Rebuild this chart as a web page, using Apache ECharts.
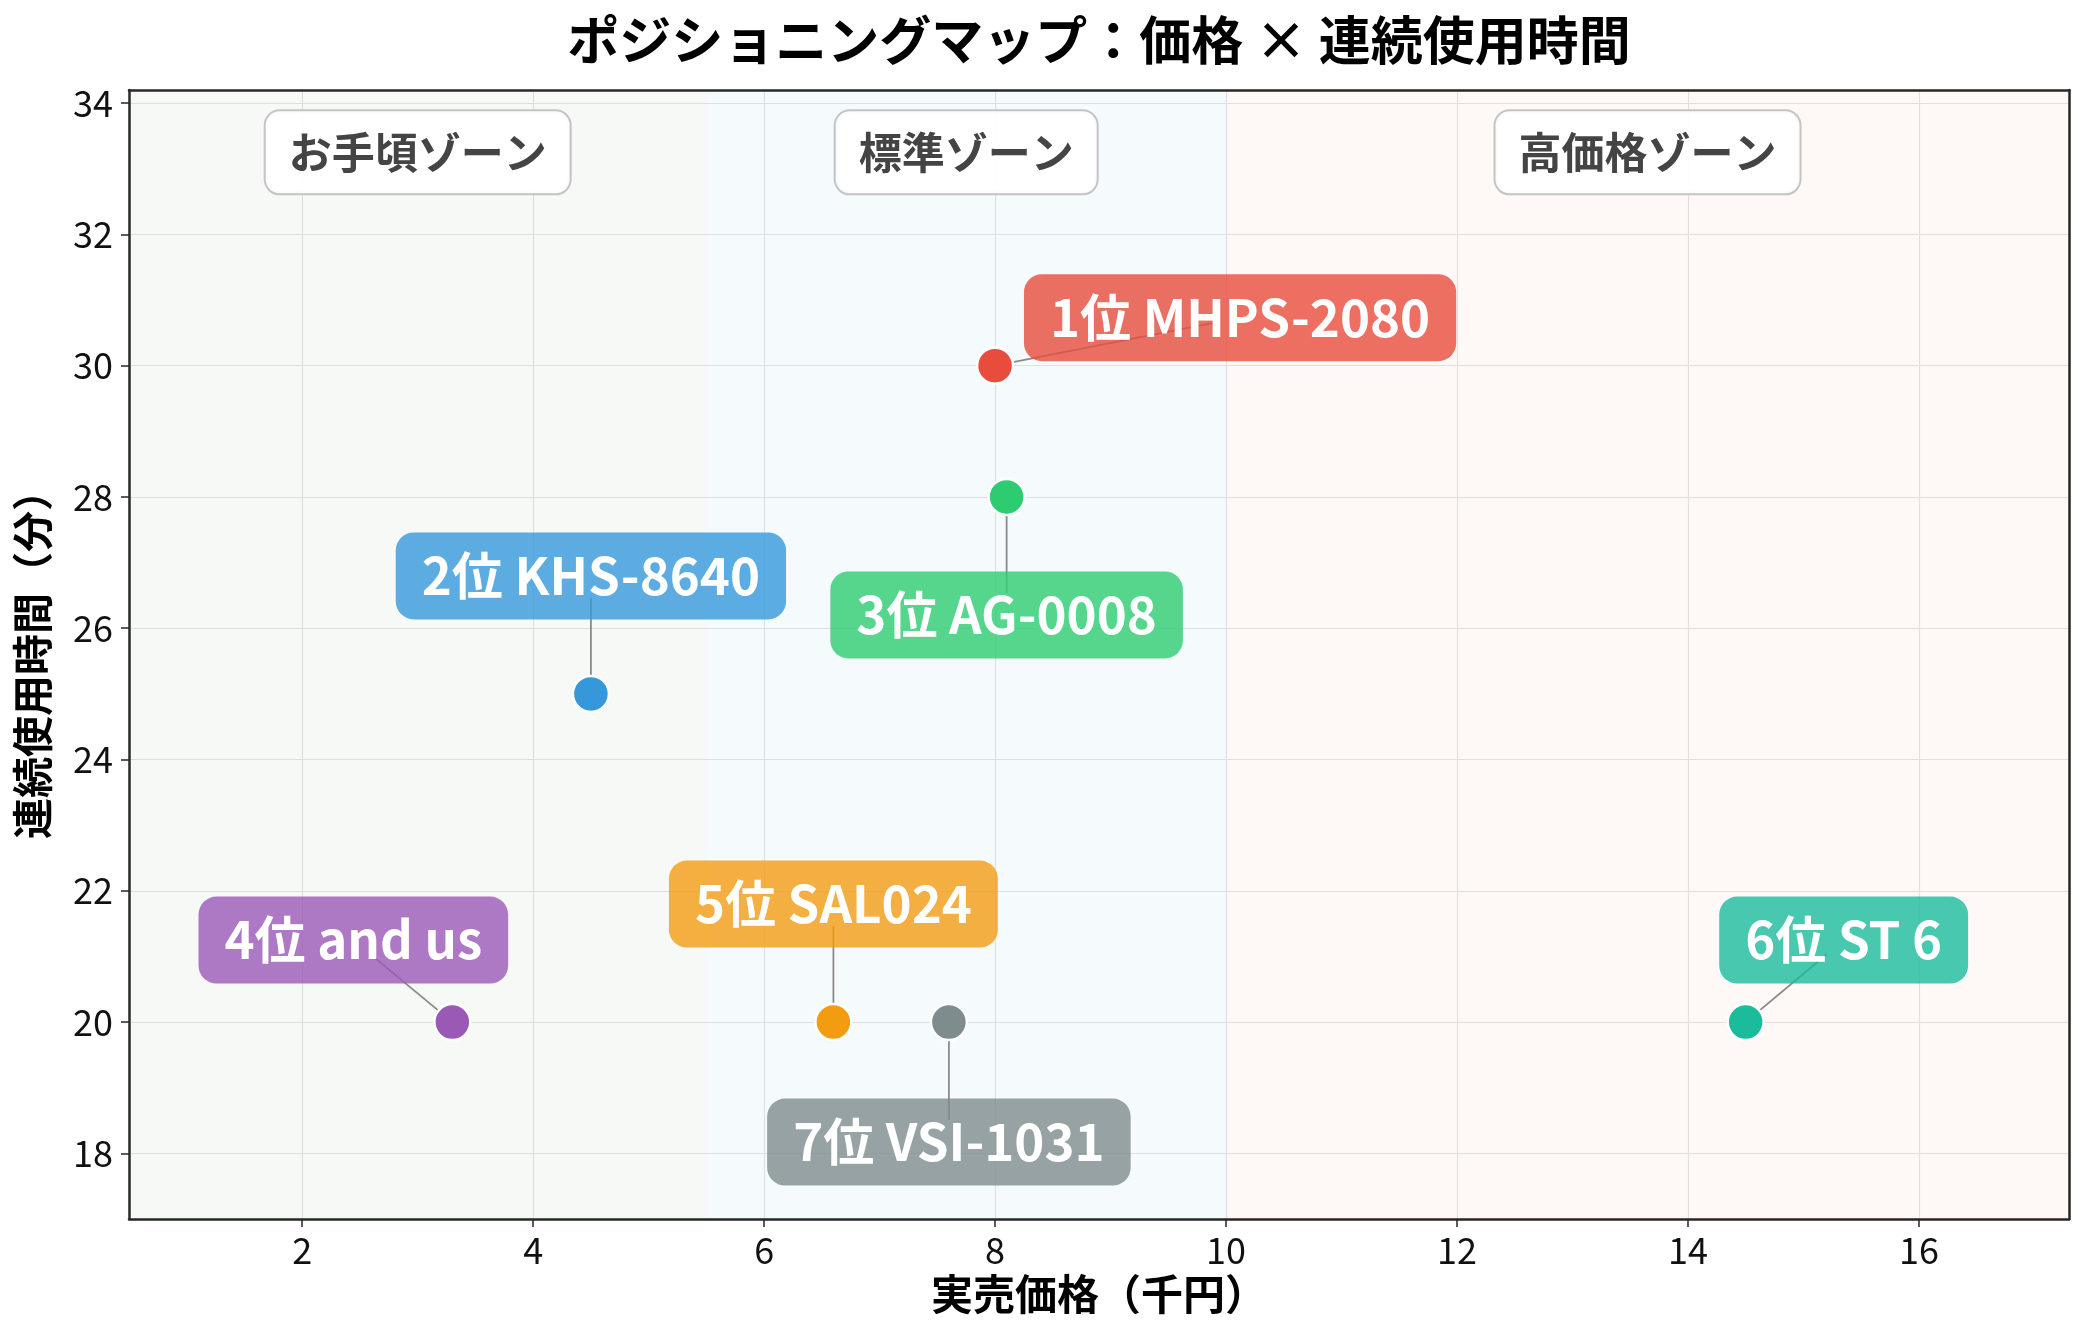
<!DOCTYPE html>
<html><head><meta charset="utf-8">
<script src="https://cdn.jsdelivr.net/npm/echarts@6/dist/echarts.min.js"></script>
<style>html,body{margin:0;padding:0;background:#fff}#c{width:2084px;height:1334px}</style>
</head><body><div id="c"></div>
<script>
const titleText = 'ポジショニングマップ：価格 × 連続使用時間';
const xAxisName = '実売価格（千円）';
const yAxisName = '連続使用時間（分）';
const productNames = ['1位 MHPS-2080','2位 KHS-8640','3位 AG-0008','4位 and us','5位 SAL024','6位 ST 6','7位 VSI-1031'];
const prices = [8.0, 4.5, 8.1, 3.3, 6.6, 14.5, 7.6];
const runtimes = [30, 25, 28, 20, 20, 20, 20];
const colors = ['#e74c3c','#3498db','#2ecc71','#9b59b6','#f39c12','#1abc9c','#7f8c8d'];
const zoneNames = ['お手頃ゾーン','標準ゾーン','高価格ゾーン'];
const zoneBounds = [0.5, 5.5, 10, 17.3];
const zoneFills = ['rgba(120,160,120,0.06)','rgba(52,152,219,0.05)','rgba(231,76,60,0.04)'];
const yRange = [17, 34.2];
const zoneLabelY = 33.25;
// layout only: label offsets from each point, in pixels
const labelOffsets = [[245,-48],[0,-118],[0,118],[-99,-82],[0,-118],[98,-82],[0,120]];

const FONT = '"Noto Sans CJK JP", "Noto Sans", sans-serif';
function rgba(hex, a){
  const n = parseInt(hex.slice(1),16);
  return `rgba(${(n>>16)&255},${(n>>8)&255},${n&255},${a})`;
}
const chart = echarts.init(document.getElementById('c'), null, {renderer:'canvas'});
const plainAxisLine = {show:true, lineStyle:{color:'#262626', width:2.5}};
const option = {
  animation:false,
  backgroundColor:'#fff',
  textStyle:{fontFamily:FONT},
  graphic:[{
    type:'text', x:1099, y:40, z:10,
    style:{text:titleText, font:'bold 52px ' + FONT, fill:'#000', textAlign:'center', textVerticalAlign:'middle', verticalAlign:'middle'}
  }],
  grid:{left:129, right:15, top:90, bottom:115, containLabel:false, outerBoundsMode:'none'},
  xAxis:[{
    type:'value', min:zoneBounds[0], max:zoneBounds[3], splitNumber:8,
    name:xAxisName, nameLocation:'middle', nameGap:50,
    nameTextStyle:{fontSize:42, fontWeight:'bold', color:'#000', fontFamily:FONT},
    axisLine:plainAxisLine,
    axisTick:{show:true, length:8, lineStyle:{color:'#262626', width:1.5}},
    axisLabel:{fontSize:36, color:'#111', margin:13, showMinLabel:false, showMaxLabel:false},
    splitLine:{show:true, lineStyle:{color:'#e4e4e4', width:1.2}}
  },{
    type:'value', position:'top', min:zoneBounds[0], max:zoneBounds[3],
    axisLine:plainAxisLine, axisTick:{show:false}, axisLabel:{show:false}, splitLine:{show:false}
  }],
  yAxis:[{
    type:'value', min:yRange[0], max:yRange[1], splitNumber:8,
    name:yAxisName, nameLocation:'middle', nameGap:76,
    nameTextStyle:{fontSize:41, fontWeight:'bold', color:'#000', fontFamily:FONT},
    axisLine:plainAxisLine,
    axisTick:{show:true, length:8, lineStyle:{color:'#262626', width:1.5}},
    axisLabel:{fontSize:36, color:'#111', margin:16, showMinLabel:false, showMaxLabel:false},
    splitLine:{show:true, lineStyle:{color:'#e4e4e4', width:1.2}}
  },{
    type:'value', position:'right', min:yRange[0], max:yRange[1],
    axisLine:plainAxisLine, axisTick:{show:false}, axisLabel:{show:false}, splitLine:{show:false}
  }],
  series:[
    {
      type:'scatter', z:1, silent:true, symbolSize:1,
      itemStyle:{color:'rgba(0,0,0,0)', opacity:1},
      data: zoneNames.map((n,i)=>({value:[(zoneBounds[i]+zoneBounds[i+1])/2, zoneLabelY], name:n})),
      label:{show:true, position:'inside', formatter:p=>p.name, fontSize:43, fontWeight:'bold', color:'#444',
        fontFamily:FONT, backgroundColor:'rgba(255,255,255,0.92)', borderColor:'#c4c4c4', borderWidth:2,
        borderRadius:14, padding:[16,23], lineHeight:50, opacity:1},
      markArea:{silent:true, data: zoneNames.map((n,i)=>[
        {xAxis:zoneBounds[i], itemStyle:{color:zoneFills[i]}}, {xAxis:zoneBounds[i+1]}
      ])}
    },
    {
      type:'custom', z:2, silent:true,
      data: prices.map((p,i)=>[p, runtimes[i], i]),
      renderItem(params, api){
        const pt = api.coord([api.value(0), api.value(1)]);
        const off = labelOffsets[api.value(2)];
        const L = Math.hypot(off[0], off[1]);
        const s = (L - 22) / L;
        return {type:'line', shape:{x1:pt[0], y1:pt[1], x2:pt[0]+off[0]*s, y2:pt[1]+off[1]*s},
          style:{stroke:'#8a8a8a', lineWidth:1.8}};
      }
    },
    {
      type:'scatter', z:3, symbolSize:36,
      data: prices.map((p,i)=>({
        value:[p, runtimes[i]], name:productNames[i],
        itemStyle:{color:colors[i], borderColor:'#fff', borderWidth:2.5, opacity:1},
        label:{show:true, position:'inside', offset:labelOffsets[i], formatter:productNames[i],
          fontSize:51, fontWeight:'bold', color:'#fff', fontFamily:FONT, opacity:1,
          backgroundColor:rgba(colors[i],0.8), borderRadius:18, padding:[16,26], lineHeight:55}
      }))
    }
  ]
};
chart.setOption(option);
</script></body></html>
